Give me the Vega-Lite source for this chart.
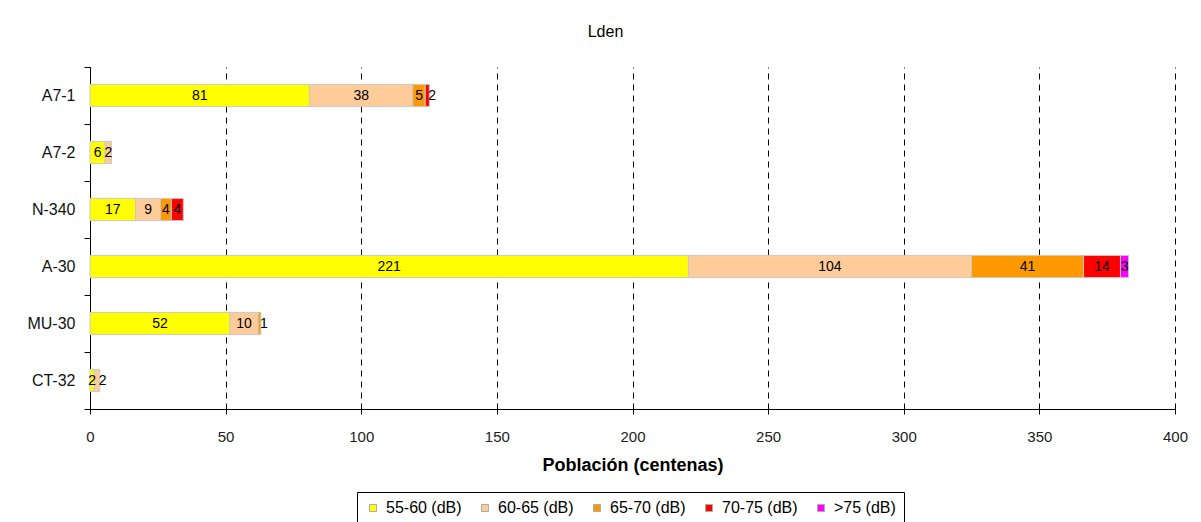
{
  "$schema": "https://vega.github.io/schema/vega-lite/v6.json",
  "autosize": {"type": "none"},
  "width": 1085,
  "height": 342,
  "padding": {"left": 90, "top": 67, "right": 26, "bottom": 113},
  "background": "white",
  "title": {"text": "Lden", "fontSize": 16, "fontWeight": "normal", "font": "Liberation Sans", "color": "black", "offset": 19, "anchor": "middle", "dx": -27},
  "config": {
    "font": "Liberation Sans",
    "view": {"stroke": null},
    "axis": {"domainColor": "black", "tickColor": "black", "labelColor": "#222", "titleColor": "black"}
  },
  "data": {"values": [
    {"via": "A7-1", "rango": "55-60 (dB)", "valor": 81},
    {"via": "A7-1", "rango": "60-65 (dB)", "valor": 38},
    {"via": "A7-1", "rango": "65-70 (dB)", "valor": 4.6},
    {"via": "A7-1", "rango": "70-75 (dB)", "valor": 1.5},
    {"via": "A7-2", "rango": "55-60 (dB)", "valor": 5.6},
    {"via": "A7-2", "rango": "60-65 (dB)", "valor": 2.3},
    {"via": "N-340", "rango": "55-60 (dB)", "valor": 16.8},
    {"via": "N-340", "rango": "60-65 (dB)", "valor": 9.2},
    {"via": "N-340", "rango": "65-70 (dB)", "valor": 4},
    {"via": "N-340", "rango": "70-75 (dB)", "valor": 4.4},
    {"via": "A-30", "rango": "55-60 (dB)", "valor": 220.6},
    {"via": "A-30", "rango": "60-65 (dB)", "valor": 104.4},
    {"via": "A-30", "rango": "65-70 (dB)", "valor": 41.3},
    {"via": "A-30", "rango": "70-75 (dB)", "valor": 13.6},
    {"via": "A-30", "rango": ">75 (dB)", "valor": 3},
    {"via": "MU-30", "rango": "55-60 (dB)", "valor": 51.6},
    {"via": "MU-30", "rango": "60-65 (dB)", "valor": 10.4},
    {"via": "MU-30", "rango": "65-70 (dB)", "valor": 1},
    {"via": "CT-32", "rango": "55-60 (dB)", "valor": 1.6},
    {"via": "CT-32", "rango": "60-65 (dB)", "valor": 2}
  ]},
  "encoding": {
    "y": {
      "field": "via", "type": "nominal",
      "sort": ["A7-1", "A7-2", "N-340", "A-30", "MU-30", "CT-32"],
      "scale": {"paddingInner": 0, "paddingOuter": 0},
      "axis": {"title": null, "labelFontSize": 16, "labelColor": "#111", "labelPadding": 9, "tickSize": 6, "tickBand": "extent", "domainColor": "black"}
    }
  },
  "layer": [
    {
      "mark": {"type": "bar", "height": {"band": 0.39}, "stroke": "#c8c8c8", "strokeWidth": 1},
      "encoding": {
        "x": {
          "field": "valor", "type": "quantitative", "stack": "zero",
          "scale": {"domain": [0, 400], "nice": false},
          "axis": {
            "values": [0, 50, 100, 150, 200, 250, 300, 350, 400],
            "title": "Población (centenas)", "titleFontSize": 18, "titleFontWeight": "bold", "titlePadding": 12,
            "labelFontSize": 15, "labelPadding": 15, "tickSize": 5, "labelFlush": false,
            "grid": true, "gridColor": "black", "gridDash": [6, 5], "gridWidth": 1
          }
        },
        "color": {
          "field": "rango", "type": "nominal",
          "scale": {
            "domain": ["55-60 (dB)", "60-65 (dB)", "65-70 (dB)", "70-75 (dB)", ">75 (dB)"],
            "range": ["#FFFF00", "#FFCC99", "#FF9900", "#FF0000", "#FF00FF"]
          },
          "legend": {
            "title": null, "orient": "none", "legendX": 267, "legendY": 425,
            "direction": "horizontal", "columns": 5,
            "strokeColor": "black", "padding": 8,
            "symbolType": "square", "symbolSize": 50, "symbolStrokeColor": "#aaaaaa", "symbolStrokeWidth": 1,
            "labelFontSize": 16, "labelColor": "black", "labelOffset": 5, "columnPadding": 15
          }
        },
        "order": {"field": "rango", "sort": "ascending"}
      }
    },
    {
      "mark": {"type": "text", "fontSize": 14, "color": "black", "align": "center", "baseline": "middle"},
      "encoding": {
        "x": {"field": "valor", "type": "quantitative", "stack": "zero", "bandPosition": 0.5},
        "detail": {"field": "rango"},
        "order": {"field": "rango", "sort": "ascending"},
        "text": {
          "condition": {"test": "datum.valor <= 2 && datum.rango !== '55-60 (dB)'", "value": ""},
          "field": "valor", "type": "quantitative", "format": ".0f"
        }
      }
    },
    {
      "transform": [
        {"stack": "valor", "groupby": ["via"], "sort": [{"field": "rango", "order": "ascending"}], "as": ["x0", "x1"]},
        {"filter": "datum.valor <= 2 && datum.rango !== '55-60 (dB)'"}
      ],
      "mark": {"type": "text", "fontSize": 14, "color": "black", "align": "left", "baseline": "middle", "dx": -1},
      "encoding": {
        "x": {"field": "x1", "type": "quantitative"},
        "text": {"field": "valor", "type": "quantitative", "format": ".0f"}
      }
    }
  ]
}
